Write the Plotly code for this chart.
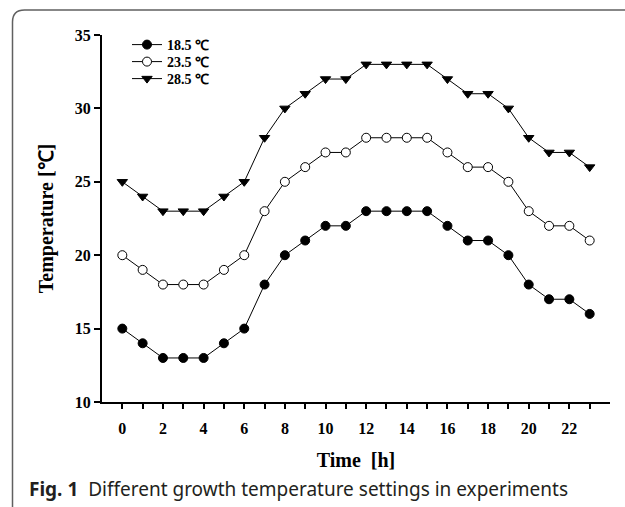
import plotly.graph_objects as go

hours = list(range(24))
t185 = [15, 14, 13, 13, 13, 14, 15, 18, 20, 21, 22, 22, 23, 23, 23, 23, 22, 21, 21, 20, 18, 17, 17, 16]
t235 = [20, 19, 18, 18, 18, 19, 20, 23, 25, 26, 27, 27, 28, 28, 28, 28, 27, 26, 26, 25, 23, 22, 22, 21]
t285 = [25, 24, 23, 23, 23, 24, 25, 28, 30, 31, 32, 32, 33, 33, 33, 33, 32, 31, 31, 30, 28, 27, 27, 26]
names = ["18.5 ℃", "23.5 ℃", "28.5 ℃"]
xtick_vals = list(range(0, 24, 2))
ytick_vals = [10, 15, 20, 25, 30, 35]

W, H = 625, 507
L, R, T, B = 102, 15, 35, 105
pw, ph = W - L - R, H - T - B

def px(x):
    return (x - L) / pw

def py(y):
    return (H - B - y) / ph

serif = "Liberation Serif"
fig = go.Figure()
styles = [
    dict(symbol="circle", color="black", line=dict(color="black", width=1)),
    dict(symbol="circle", color="white", line=dict(color="black", width=1)),
    dict(symbol="triangle-down", color="black", line=dict(color="black", width=1)),
]
legend_ids = ["legend", "legend2", "legend3"]
legend_centers = [45, 62, 79]
for vals, nm, st, lg in zip([t185, t235, t285], names, styles, legend_ids):
    fig.add_trace(go.Scatter(
        x=hours, y=vals, name=f"<b>{nm}</b>", mode="lines+markers",
        line=dict(color="black", width=1),
        marker=dict(size=9, **st), legend=lg,
    ))

leg_common = dict(xanchor="left", yanchor="middle",
                  font=dict(family=serif, size=14, color="black"),
                  bgcolor="rgba(0,0,0,0)", itemwidth=30)
fig.update_layout(
    width=W, height=H,
    margin=dict(l=L, r=R, t=T, b=B),
    paper_bgcolor="white", plot_bgcolor="white",
    font=dict(family=serif, color="black"),
    showlegend=True,
    legend=dict(x=px(127), y=py(legend_centers[0]), **leg_common),
    legend2=dict(x=px(127), y=py(legend_centers[1]), **leg_common),
    legend3=dict(x=px(127), y=py(legend_centers[2]), **leg_common),
    xaxis=dict(range=[-1, 24], tickvals=xtick_vals, ticktext=[f"<b>{v}</b>" for v in xtick_vals],
               showgrid=False, zeroline=False, showline=True, linecolor="black", linewidth=2,
               ticks="", tickfont=dict(family=serif, size=16, color="black"),
               ticklabelstandoff=11,
               title=dict(text="<b>Time  [h]</b>", font=dict(family=serif, size=20, color="black"),
                          standoff=17)),
    yaxis=dict(range=[10, 35], tickvals=ytick_vals, ticktext=[f"<b>{v}</b>" for v in ytick_vals],
               showgrid=False, zeroline=False, showline=True, linecolor="black", linewidth=2,
               ticks="outside", ticklen=6, tickwidth=2, tickcolor="black",
               tickfont=dict(family=serif, size=16, color="black"),
               title=dict(text="<b>Temperature [℃]</b>", font=dict(family=serif, size=20, color="black"),
                          standoff=16)),
)

# hourly ticks on the x-axis via an overlaid axis
fig.update_layout(
    xaxis2=dict(overlaying="x", matches="x", range=[-1, 24], tickvals=hours, ticktext=[""] * len(hours),
                side="bottom", anchor="y", showgrid=False, zeroline=False, showline=False,
                ticks="outside", ticklen=6, tickwidth=2, tickcolor="black"),
)
fig.add_trace(go.Scatter(x=[None], y=[None], xaxis="x2", showlegend=False, hoverinfo="skip"))

# outer rounded frame
rr = 12
path = (f"M {px(12.5)},{py(520)} L {px(12.5)},{py(10 + rr)} "
        f"Q {px(12.5)},{py(10)} {px(12.5 + rr)},{py(10)} L {px(640)},{py(10)}")
fig.add_shape(type="path", xref="paper", yref="paper", path=path,
              line=dict(color="#606060", width=1.5), layer="above")

fig.add_annotation(xref="paper", yref="paper", x=px(27), y=py(489), xanchor="left", yanchor="middle",
                   showarrow=False, align="left",
                   text="<b>Fig. 1</b>  Different growth temperature settings in experiments",
                   font=dict(family="Noto Sans", size=19, color="#231f20"))

fig.write_html("out.html")
